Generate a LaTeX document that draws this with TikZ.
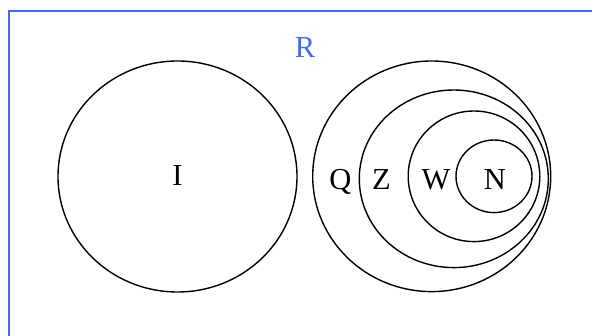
\documentclass[tikz,border=0pt]{standalone}
\usepackage{fontspec}
\setmainfont{Liberation Serif}
\definecolor{frameblue}{RGB}{64,108,255}
\begin{document}
\begin{tikzpicture}[x=1pt,y=-1pt,
  setline/.style={draw=black,line width=1.4pt},
  setlabel/.style={font=\fontsize{30.5}{30.5}\selectfont,anchor=base,inner sep=0pt}]
\useasboundingbox (0,0) rectangle (592,336);
\clip (0,0) rectangle (592,336);
\fill[white] (0,0) rectangle (592,336);
\draw[frameblue,line width=2pt] (9,11) rectangle (610,350);
% circles
\draw[setline] (177.5,176.5) ellipse [x radius=119.5, y radius=115.5];
\draw[setline] (431.7,176.3) ellipse [x radius=119, y radius=115.3];
\draw[setline] (453.8,178.8) ellipse [x radius=94.5, y radius=88.8];
\draw[setline] (474,176.3) ellipse [x radius=65.8, y radius=65.3];
\draw[setline] (494,176.3) ellipse [x radius=38, y radius=36.3];
% labels
\node[setlabel,text=frameblue] (r) at (305,58) {R};
\node[setlabel] (i) at (177.5,186) {I};
\node[setlabel] (q) at (340.5,190) {Q};
\node[setlabel] (z) at (381.5,190) {Z};
\node[setlabel] (w) at (436,190) {W};
\node[setlabel] (n) at (495,190) {N};
\end{tikzpicture}
\end{document}
